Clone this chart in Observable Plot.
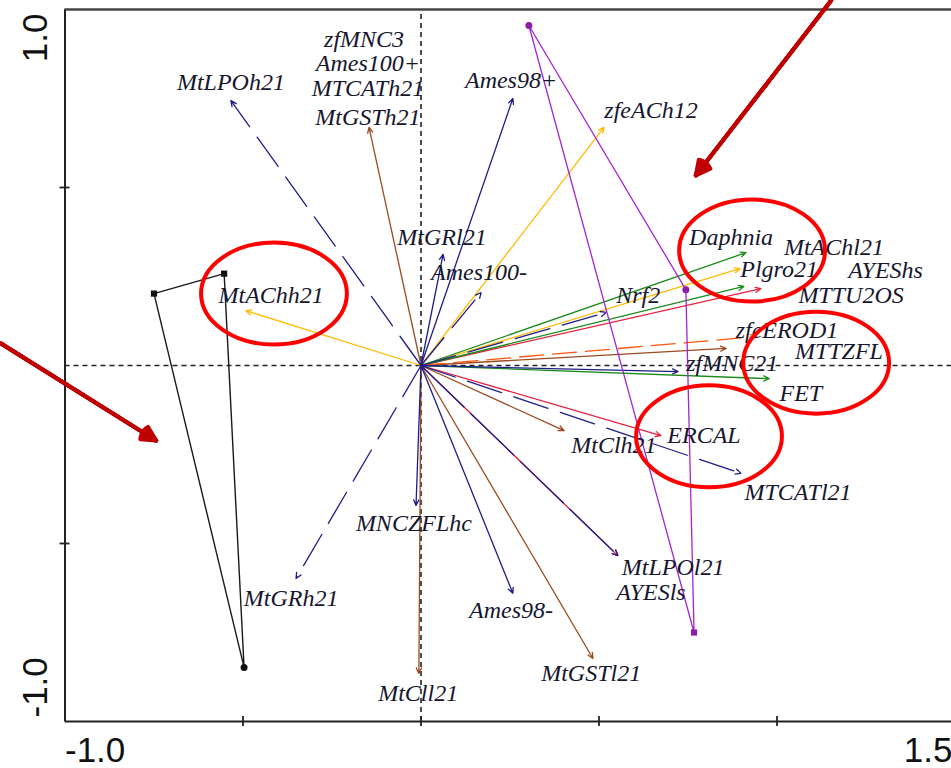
<!DOCTYPE html>
<html><head><meta charset="utf-8">
<script src="https://cdn.jsdelivr.net/npm/d3@7"></script>
<script src="https://cdn.jsdelivr.net/npm/@observablehq/plot@0.6"></script>
<style>
html,body{margin:0;padding:0;background:#fff;overflow:hidden}
#chart svg{display:block}
</style></head><body><div id="chart"></div>
<script>
// ---- Biplot vectors (arrow tips, axis units) ----
const vecName  = ["MtLPOh21","MtGSTh21","Ames98+","zfeACh12","MtGRl21","Ames100-","Nrf2","Daphnia","Plgro21","MtAChl21","MTTU2OS","zfeEROD1","MTTZFL","zfMNC21","FET","ERCAL","MTCATl21","MtClh21","AYESls","MtLPOl21","Ames98-","MtGSTl21","MNCZFLhc","MtCll21","MtGRh21","MtAChh21"];
const vecX     = [-0.534,-0.146,0.258,0.514,0.062,0.169,0.520,0.913,0.896,0.907,0.955,0.941,0.857,0.722,0.978,0.674,0.899,0.402,0.553,0.553,0.258,0.483,-0.014,-0.006,-0.351,-0.492];
const vecY     = [0.744,0.669,0.750,0.669,0.312,0.205,0.149,0.317,0.272,0.222,0.216,0.081,0.048,-0.017,-0.037,-0.197,-0.303,-0.183,-0.534,-0.534,-0.640,-0.823,-0.393,-0.865,-0.598,0.154];
const vecGroup = ["navy-dash","brown","navy","gold","navy","navy-dash","navy-dash","green","gold","green","red","orange-dash","brown","navy","green","red","navy-dash","brown","red","navy-long","navy","brown","navy","brown","navy-dash","gold"];

// ---- Labels (text and position) ----
const labName = ["MtLPOh21","zfMNC3","Ames100+","MTCATh21","MtGSTh21","Ames98+","zfeACh12","MtGRl21","Ames100-","Nrf2","Daphnia","MtAChl21","Plgro21","AYEShs","MTTU2OS","zfeEROD1","MTTZFL","zfMNC21","FET","ERCAL","MTCATl21","MtClh21","MtLPOl21","AYESls","Ames98-","MtGSTl21","MNCZFLhc","MtCll21","MtGRh21","MtAChh21"];
const labX = [-0.534,-0.160,-0.149,-0.149,-0.149,0.253,0.646,0.059,0.163,0.610,0.871,1.160,1.006,1.305,1.208,1.028,1.174,0.874,1.067,0.795,1.059,0.542,0.708,0.646,0.253,0.478,-0.020,-0.008,-0.365,-0.421];
const labY = [0.795,0.916,0.849,0.778,0.697,0.801,0.716,0.360,0.261,0.197,0.360,0.332,0.270,0.266,0.197,0.100,0.040,0.006,-0.079,-0.197,-0.357,-0.225,-0.567,-0.638,-0.688,-0.865,-0.444,-0.921,-0.654,0.197];

// ---- Sample sites (convex hulls) ----
const blackSiteX  = [-0.750,-0.553,-0.497];
const blackSiteY  = [0.202,0.258,-0.848];
const purpleSiteX = [0.303,0.744,0.767];
const purpleSiteY = [0.955,0.213,-0.750];

// ---- Annotations ----
const ellipseX = [-0.413,0.930,1.110,0.809];
const ellipseY = [0.202,0.323,0.008,-0.199];
const noteFromX = [1.152,-1.180];
const noteFromY = [1.025,0.062];
const noteToX   = [0.772,-0.744];
const noteToY   = [0.534,-0.211];

// ---- Tick labels ----
const xTickLabels = ["-1.0","1.5"];
const yTickLabels = ["1.0","-1.0"];

// ---- build tables ----
const vectors = vecName.map((name,i)=>({name,x:vecX[i],y:vecY[i],group:vecGroup[i]}));
const labels = labName.map((name,i)=>({name,x:labX[i],y:labY[i]}));
const blackSites = blackSiteX.map((x,i)=>({x,y:blackSiteY[i]}));
const purpleSites = purpleSiteX.map((x,i)=>({x,y:purpleSiteY[i]}));
const ellipses = ellipseX.map((x,i)=>({x,y:ellipseY[i]}));
const notes = noteFromX.map((x1,i)=>({x1,y1:noteFromY[i],x2:noteToX[i],y2:noteToY[i]}));

const NAVY = "#1e1e8a";
const styles = {
  "red": {stroke:"#e6213f"},
  "gold": {stroke:"#ffbb00"},
  "green": {stroke:"#1b8a1b"},
  "brown": {stroke:"#9b4a22"},
  "orange-dash": {stroke:"#ff5511", strokeDasharray:"24,9"},
  "navy": {stroke:NAVY},
  "navy-dash": {stroke:NAVY, strokeDasharray:"36,13"},
  "navy-long": {stroke:NAVY, strokeDasharray:"60,9"}
};
const order = ["red","gold","green","brown","orange-dash","navy","navy-dash","navy-long"];

const ellipseSymbol = {
  draw(context, size) {
    const r = Math.sqrt(size/Math.PI), rx = r*1.43, ry = r, k = 0.5523;
    context.moveTo(rx,0);
    context.bezierCurveTo(rx,ry*k,rx*k,ry,0,ry);
    context.bezierCurveTo(-rx*k,ry,-rx,ry*k,-rx,0);
    context.bezierCurveTo(-rx,-ry*k,-rx*k,-ry,0,-ry);
    context.bezierCurveTo(rx*k,-ry,rx,-ry*k,rx,0);
    context.closePath();
  }
};

const serif = {fontFamily:"'Liberation Serif', 'Times New Roman', serif", fontStyle:"italic", fontSize:24, fill:"#16162e"};
const sans = {fontFamily:"'Liberation Sans', Arial, sans-serif", fontSize:35, fill:"#111"};

const chart = Plot.plot({
  width: 951, height: 768,
  marginTop: 0, marginRight: 0, marginBottom: 0, marginLeft: 0,
  x: {domain:[-1,1.5], range:[64.5,954.5], axis:null},
  y: {domain:[-1,1], range:[721,9], axis:null},
  style: {background:"white", overflow:"visible"},
  marks: [
    // zero lines
    Plot.ruleX([0], {y1:-1, y2:1, stroke:"#222", strokeWidth:1.6, strokeDasharray:"5,4"}),
    Plot.ruleY([0], {x1:-1, x2:1.5, stroke:"#222", strokeWidth:1.6, strokeDasharray:"5,4"}),
    // site hulls
    Plot.line(blackSites, {x:"x", y:"y", curve:"linear-closed", stroke:"#1a1a1a", strokeWidth:1.4}),
    Plot.dot(blackSites, {x:"x", y:"y", r:3.5, fill:"#111", symbol:(d,i)=> i<2 ? "square" : "circle"}),
    // vectors
    ...order.map(g => Plot.arrow(vectors.filter(d=>d.group===g), {
      x1:0, y1:0, x2:"x", y2:"y", strokeWidth:1.3, headLength:7, headAngle:50, ...styles[g]
    })),
    Plot.line(purpleSites, {x:"x", y:"y", curve:"linear-closed", stroke:"#a524d4", strokeWidth:1.3}),
    Plot.dot(purpleSites, {x:"x", y:"y", r:3.5, fill:"#8e1ea8", symbol:(d,i)=> i<2 ? "circle" : "square"}),
    // labels
    Plot.text(labels, {x:"x", y:"y", text:"name", textAnchor:"middle", lineAnchor:"middle", ...serif}),
    // frame
    Plot.ruleX([-1], {y1:-1, y2:1, stroke:"#222", strokeWidth:2}),
    Plot.ruleY([1], {x1:-1, x2:1.5, stroke:"#444", strokeWidth:2.5}),
    Plot.ruleY([-1], {x1:-1, x2:1.5, stroke:"#222", strokeWidth:2}),
    Plot.ruleY([0.5,-0.5], {x1:-1.014, x2:-0.986, stroke:"#222", strokeWidth:1.8}),
    Plot.ruleX([-0.5,0,0.5,1.0], {y1:-1.014, y2:-0.986, stroke:"#222", strokeWidth:1.8}),
    // tick labels
    Plot.text([xTickLabels[0]], {x:-1, y:-1.115, text:d=>d, textAnchor:"start", lineAnchor:"bottom", ...sans}),
    Plot.text([xTickLabels[1]], {x:1.493, y:-1.115, text:d=>d, textAnchor:"end", lineAnchor:"bottom", ...sans}),
    Plot.text([yTickLabels[0]], {x:-1.0506, y:0.9888, text:d=>d, rotate:-90, textAnchor:"end", lineAnchor:"bottom", ...sans}),
    Plot.text([yTickLabels[1]], {x:-1.0506, y:-0.9888, text:d=>d, rotate:-90, textAnchor:"start", lineAnchor:"bottom", ...sans}),
    // annotations: ellipses
    Plot.dot(ellipses, {x:"x", y:"y", r:51, symbol:ellipseSymbol, fill:"none", stroke:"#ff0000", strokeWidth:4}),
    // annotations: arrows (fan of heads to fill)
    ...[54,38,22,6].map(a => Plot.arrow(notes, {x1:"x1", y1:"y1", x2:"x2", y2:"y2", stroke:"#c00000", strokeWidth:4, headLength:6, headAngle:a}))
  ]
});
document.getElementById("chart").appendChild(chart);
</script>
</body></html>
